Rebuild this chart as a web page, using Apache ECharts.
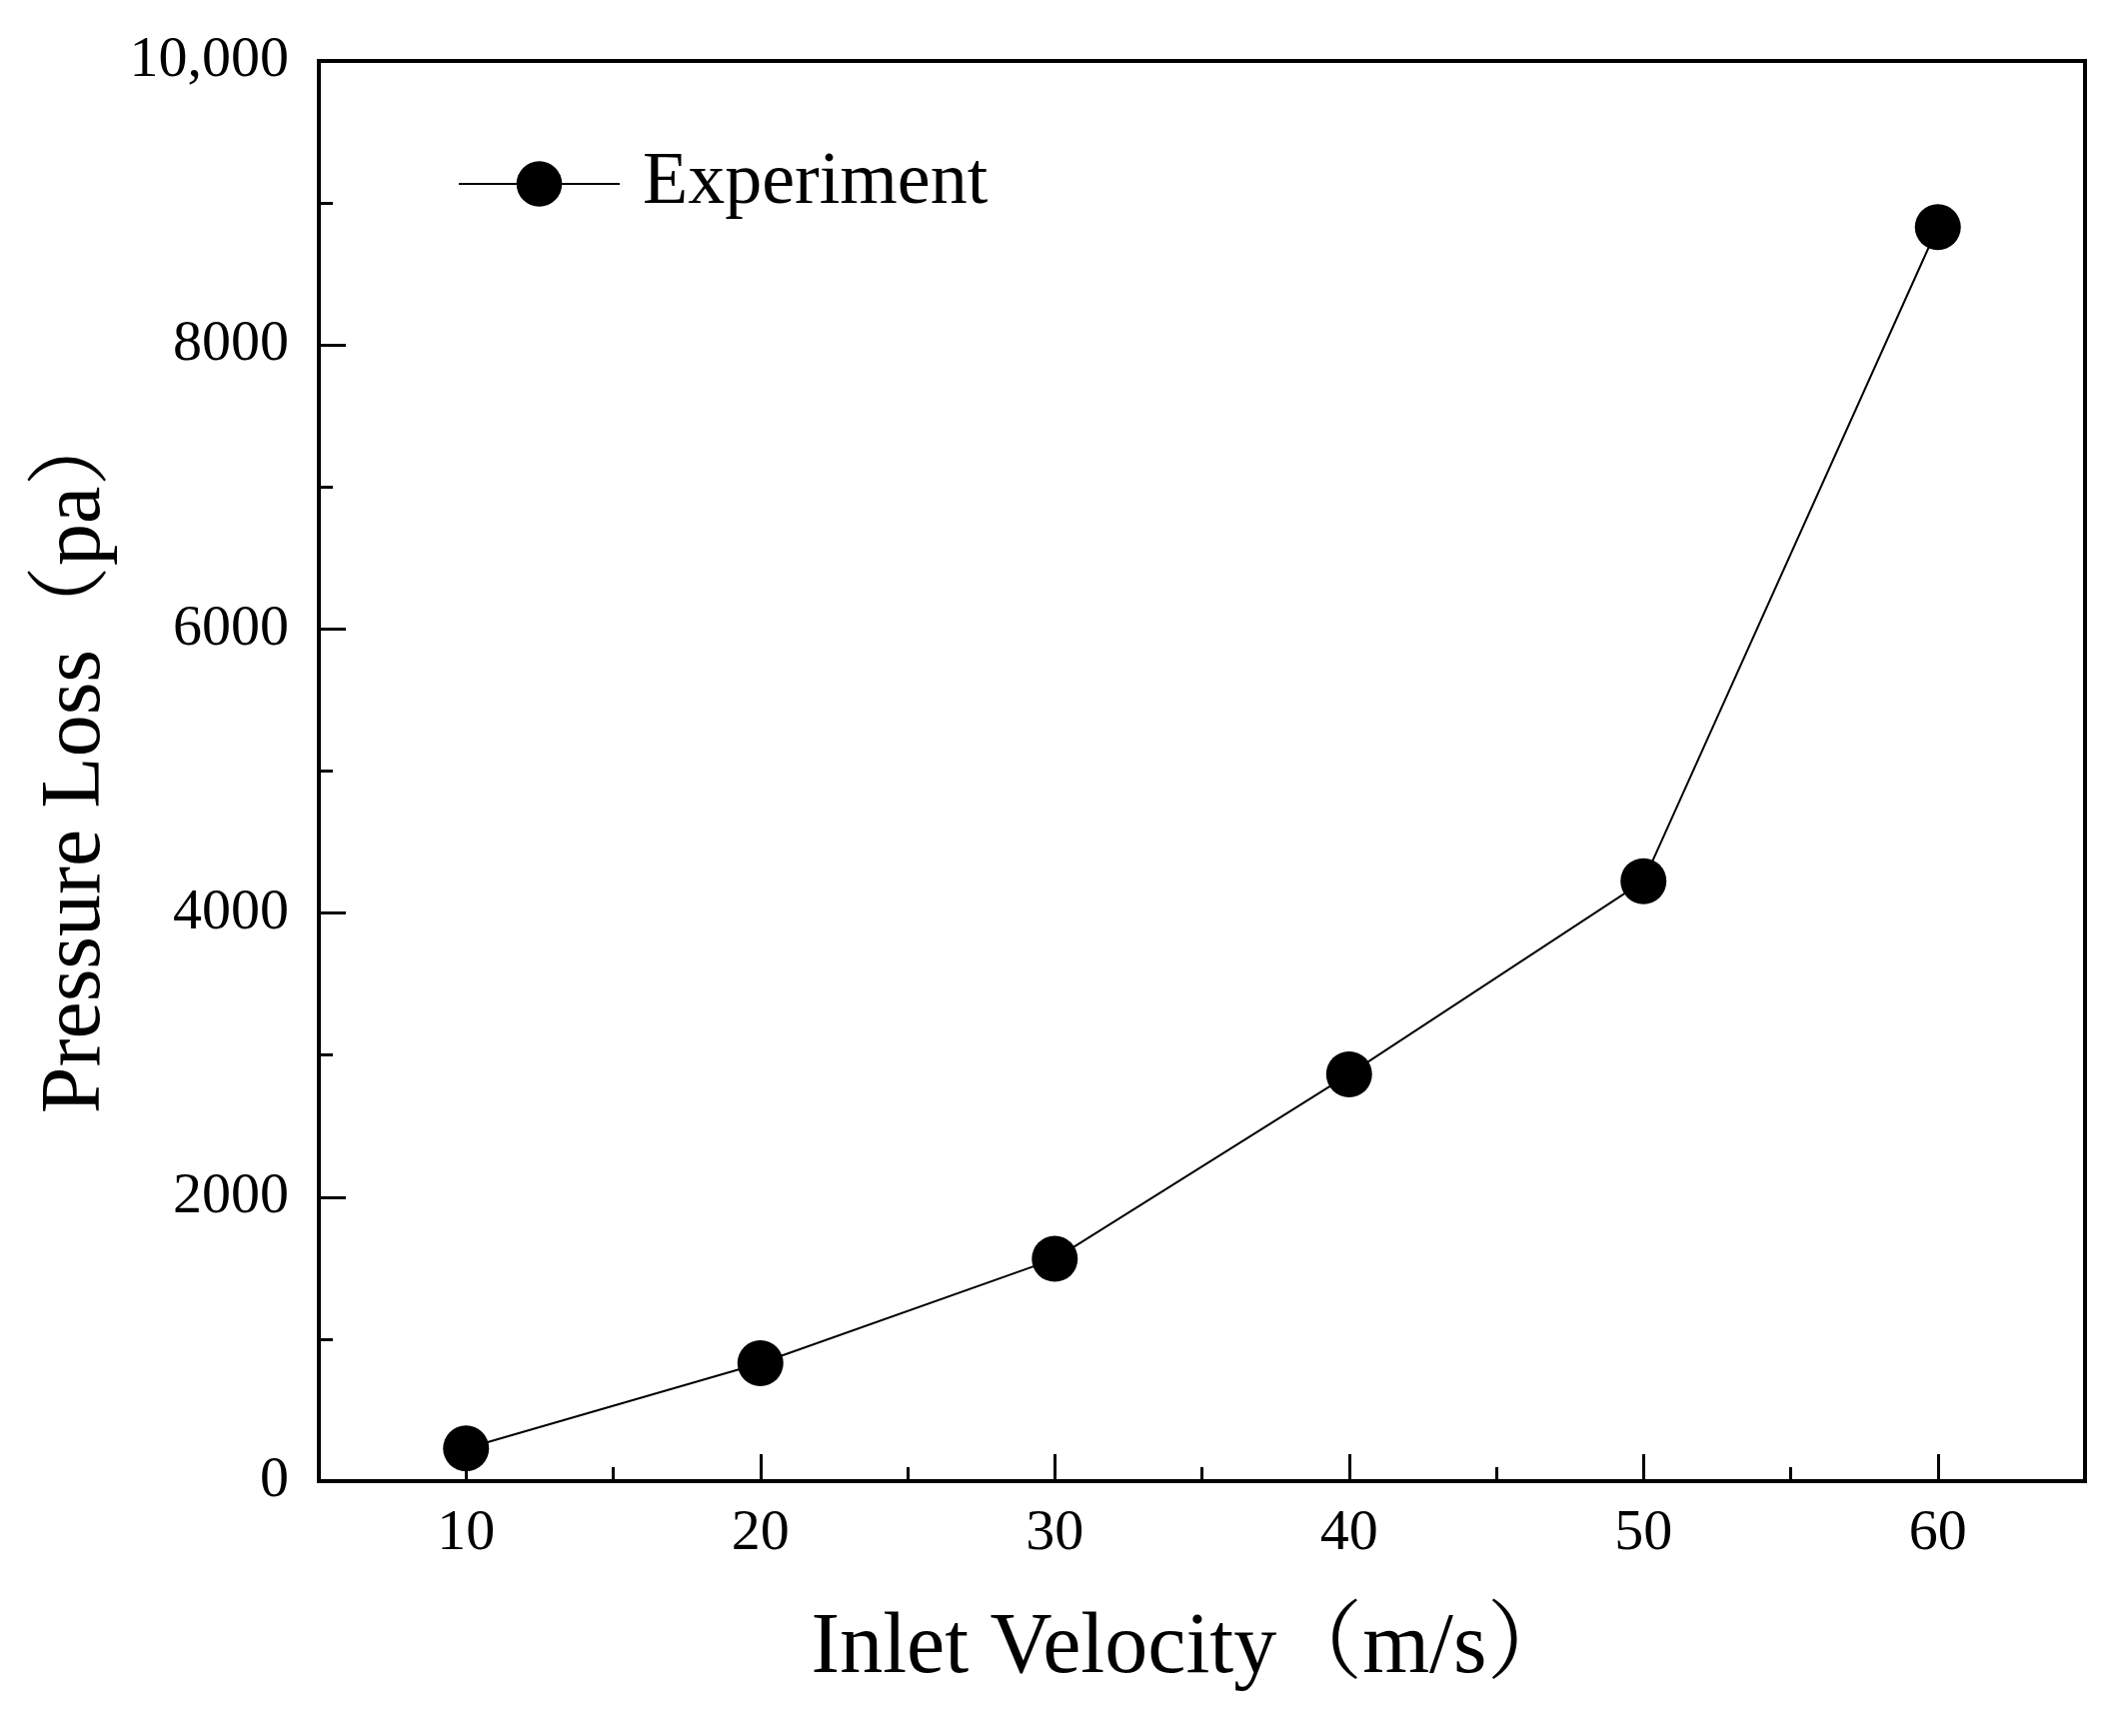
<!DOCTYPE html>
<html>
<head>
<meta charset="utf-8">
<script src="https://cdn.jsdelivr.net/npm/echarts@6/dist/echarts.min.js"></script>
<style>
html,body{margin:0;padding:0;background:#fff;}
#chart{width:2117px;height:1737px;}
</style>
</head>
<body>
<div id="chart"></div>
<script>
// Data
const velocities = [10, 20, 30, 40, 50, 60];
const pressureLoss = [230, 830, 1565, 2865, 4225, 8830];
const seriesName = 'Experiment';
const xTickValues = [10, 20, 30, 40, 50, 60];
const xMinorTickValues = [15, 25, 35, 45, 55];
const yTickValues = [0, 2000, 4000, 6000, 8000, 10000];
const yTickLabels = ['0', '2000', '4000', '6000', '8000', '10,000'];
const xAxisTitle = 'Inlet Velocity（m/s）';
const yAxisTitle = 'Pressure Loss（pa）';

const FONT = "'Liberation Serif', 'Times New Roman', 'Noto Serif CJK SC', 'Noto Sans CJK SC', serif";

const chart = echarts.init(document.getElementById('chart'));
chart.setOption({
  backgroundColor: '#fff',
  animation: false,
  grid: {
    left: 319, right: 31, top: 61, bottom: 255,
    show: true, borderColor: '#000', borderWidth: 4, backgroundColor: 'transparent'
  },
  legend: {
    left: 453, top: 142,
    itemWidth: 161, itemHeight: 57,
    data: [seriesName],
    textStyle: { fontFamily: FONT, fontSize: 74, color: '#000', padding: [0, 0, 0, 18] }
  },
  xAxis: [{
    type: 'value', min: 5, max: 65, position: 'bottom',
    name: xAxisTitle, nameLocation: 'middle', nameGap: 125,
    nameTextStyle: { fontFamily: FONT, fontSize: 86, color: '#000', padding: [0, 20, 0, 0] },
    axisLine: { show: true, lineStyle: { color: '#000', width: 4 } },
    axisTick: { show: true, inside: true, length: 27, customValues: xTickValues, lineStyle: { color: '#000', width: 3 } },
    axisLabel: { customValues: xTickValues, margin: 24, fontFamily: FONT, fontSize: 58, color: '#000', formatter: v => String(v) },
    splitLine: { show: false }
  }, {
    type: 'value', min: 5, max: 65, position: 'bottom', gridIndex: 0,
    axisLine: { show: false },
    axisTick: { show: true, inside: true, length: 14, customValues: xMinorTickValues, lineStyle: { color: '#000', width: 3 } },
    axisLabel: { show: false },
    splitLine: { show: false }
  }],
  yAxis: {
    type: 'value', min: 0, max: 10000, interval: 2000,
    name: yAxisTitle, nameLocation: 'middle', nameGap: 193,
    nameTextStyle: { fontFamily: FONT, fontSize: 84, color: '#000', padding: [0, 0, 0, 26] },
    axisLine: { show: true, lineStyle: { color: '#000', width: 4 } },
    axisTick: { show: true, inside: true, length: 27, lineStyle: { color: '#000', width: 3 } },
    minorTick: { show: true, splitNumber: 2, length: 14, lineStyle: { color: '#000', width: 3 } },
    axisLabel: {
      showMinLabel: true, showMaxLabel: true, margin: 30,
      fontFamily: FONT, fontSize: 58, color: '#000',
      formatter: v => { const i = yTickValues.indexOf(v); return i >= 0 ? yTickLabels[i] : ''; }
    },
    splitLine: { show: false },
    minorSplitLine: { show: false }
  },
  series: [{
    name: seriesName,
    type: 'line',
    xAxisIndex: 0,
    data: velocities.map((v, i) => [v, pressureLoss[i]]),
    symbol: 'circle',
    symbolSize: 46,
    lineStyle: { color: '#000', width: 2 },
    itemStyle: { color: '#000' }
  }]
});
</script>
</body>
</html>
